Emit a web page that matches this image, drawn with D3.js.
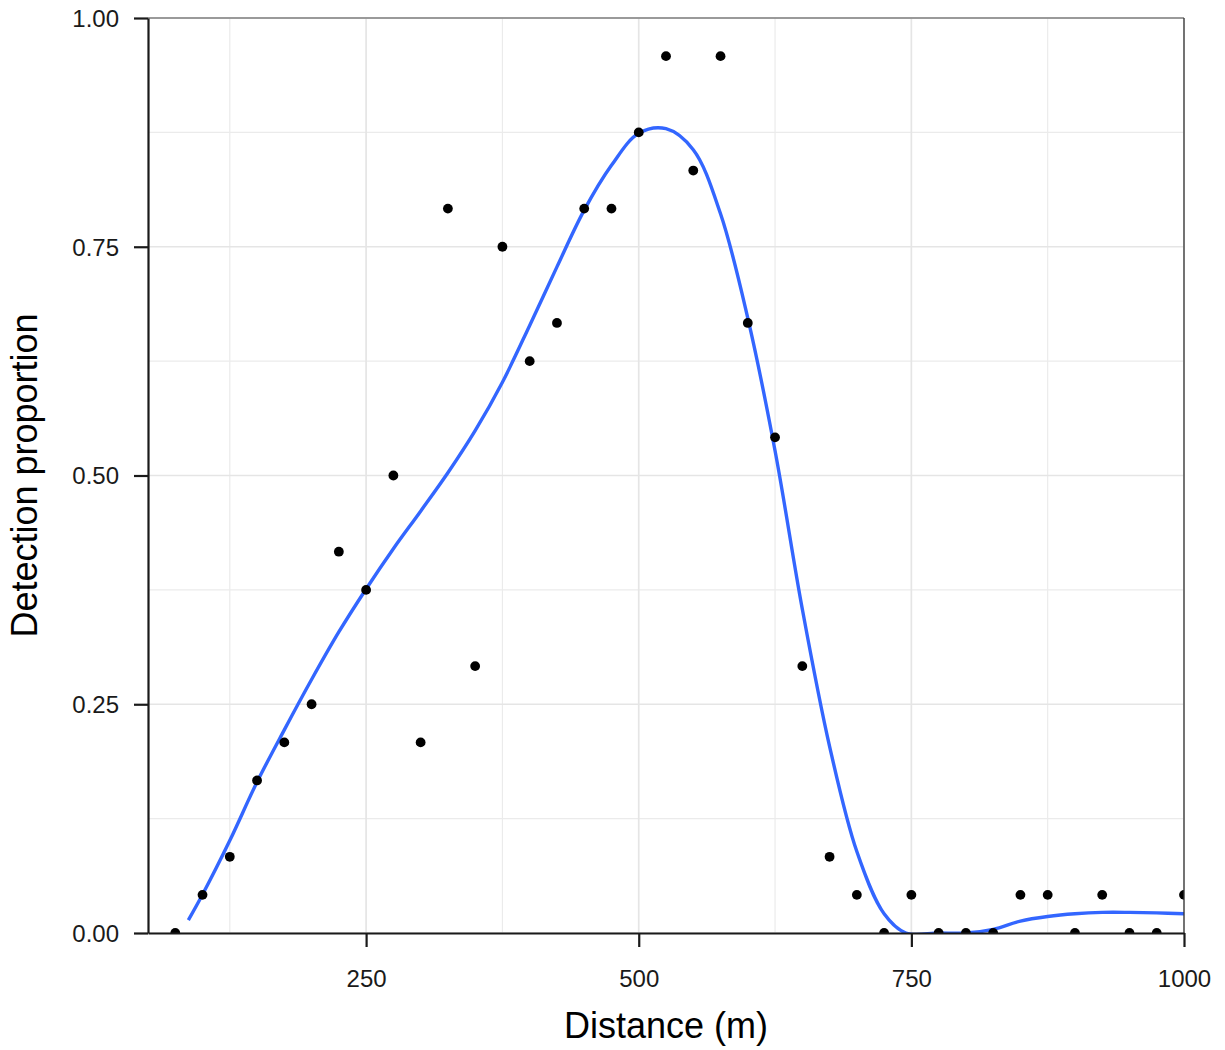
<!DOCTYPE html>
<html>
<head>
<meta charset="utf-8">
<script src="https://cdn.jsdelivr.net/npm/d3@7"></script>
<style>
  html, body { margin: 0; padding: 0; background: #ffffff; }
  svg { display: block; }
  text { font-family: "Liberation Sans", Arial, sans-serif; }
</style>
</head>
<body>
<div id="chart"></div>
<script>
// Observed detection proportions
const distances = [75, 100, 125, 150, 175, 200, 225, 250, 275, 300, 325, 350, 375, 400, 425, 450, 475, 500,
  525, 550, 575, 600, 625, 650, 675, 700, 725, 750, 775, 800, 825, 850, 875, 900, 925, 950, 975, 1000];
const proportions = [0, 0.0417, 0.0833, 0.1667, 0.2083, 0.25, 0.4167, 0.375, 0.5, 0.2083, 0.7917, 0.2917, 0.75,
  0.625, 0.6667, 0.7917, 0.7917, 0.875, 0.9583, 0.8333, 0.9583, 0.6667, 0.5417, 0.2917, 0.0833, 0.0417, 0,
  0.0417, 0, 0, 0, 0.0417, 0.0417, 0, 0.0417, 0, 0, 0.0417];

// Smoothed fit
const smoothX = [87, 100, 125, 150, 175, 200, 225, 250, 275, 300, 325, 350, 375, 400, 425, 450, 475, 500, 525,
  550, 575, 600, 625, 650, 675, 700, 725, 745, 775, 800, 825, 850, 875, 900, 925, 950, 975, 1000];
const smoothY = [0.014, 0.042, 0.101, 0.165, 0.222, 0.277, 0.329, 0.376, 0.420, 0.461, 0.503, 0.549, 0.602, 0.664,
  0.728, 0.790, 0.839, 0.874, 0.879, 0.856, 0.786, 0.672, 0.527, 0.354, 0.204, 0.089, 0.021, 0.0, 0, 0,
  0.004, 0.013, 0.018, 0.021, 0.0225, 0.0225, 0.022, 0.021];

const xTicks = [250, 500, 750, 1000];
const xMinor = [125, 375, 625, 875];
const yTicks = [0, 0.25, 0.5, 0.75, 1];
const yMinor = [0.125, 0.375, 0.625, 0.875];
const xTitle = "Distance (m)";
const yTitle = "Detection proportion";

(function () {
const W = 1225, H = 1050;
const pL = 148, pR = 1184, pT = 18, pB = 933;

const svg = d3.select("#chart").append("svg").attr("width", W).attr("height", H);

const x = d3.scaleLinear().domain([50, 1000]).range([pL, pR]);
const y = d3.scaleLinear().domain([0, 1]).range([pB, pT]);

svg.append("defs").append("clipPath").attr("id", "panel")
  .append("rect").attr("x", pL).attr("y", pT).attr("width", pR - pL).attr("height", pB - pT);

const grid = svg.append("g");
grid.selectAll(".vmin").data(xMinor).join("line")
  .attr("x1", d => x(d)).attr("x2", d => x(d)).attr("y1", pT).attr("y2", pB)
  .attr("stroke", "#ebebeb").attr("stroke-width", 1.2);
grid.selectAll(".hmin").data(yMinor).join("line")
  .attr("y1", d => y(d)).attr("y2", d => y(d)).attr("x1", pL).attr("x2", pR)
  .attr("stroke", "#ebebeb").attr("stroke-width", 1.2);
grid.selectAll(".vmaj").data(xTicks).join("line")
  .attr("x1", d => x(d)).attr("x2", d => x(d)).attr("y1", pT).attr("y2", pB)
  .attr("stroke", "#e5e5e5").attr("stroke-width", 1.7);
grid.selectAll(".hmaj").data(yTicks).join("line")
  .attr("y1", d => y(d)).attr("y2", d => y(d)).attr("x1", pL).attr("x2", pR)
  .attr("stroke", "#e5e5e5").attr("stroke-width", 1.7);

const panel = svg.append("g").attr("clip-path", "url(#panel)");

const line = d3.line().x((d, i) => x(smoothX[i])).y(d => y(d)).curve(d3.curveCatmullRom.alpha(0.5));
panel.append("path").datum(smoothY).attr("d", line)
  .attr("fill", "none").attr("stroke", "#3366FF").attr("stroke-width", 3.4)
  .attr("stroke-linejoin", "round");

panel.selectAll("circle").data(distances).join("circle")
  .attr("cx", d => x(d)).attr("cy", (d, i) => y(proportions[i])).attr("r", 4.9).attr("fill", "#000");

// panel border (top/right)
svg.append("line").attr("x1", pL).attr("x2", pR).attr("y1", pT).attr("y2", pT)
  .attr("stroke", "#7f7f7f").attr("stroke-width", 1.3);
svg.append("line").attr("x1", pR).attr("x2", pR).attr("y1", pT).attr("y2", pB)
  .attr("stroke", "#333333").attr("stroke-width", 1.3);

// Axes
const xAxis = d3.axisBottom(x).tickValues(xTicks).tickFormat(d3.format("d")).tickSizeInner(14).tickSizeOuter(0).tickPadding(15);
const yAxis = d3.axisLeft(y).tickValues(yTicks).tickFormat(d3.format(".2f")).tickSizeInner(14).tickSizeOuter(0).tickPadding(15);

const gx = svg.append("g").attr("transform", `translate(0,${pB})`).call(xAxis);
const gy = svg.append("g").attr("transform", `translate(${pL},0)`).call(yAxis);
[gx, gy].forEach(g => {
  g.select(".domain").attr("stroke", "#1a1a1a").attr("stroke-width", 2.2);
  g.selectAll(".tick line").attr("stroke", "#1a1a1a").attr("stroke-width", 2.2);
  g.selectAll(".tick text").attr("fill", "#1a1a1a").attr("font-size", 24)
    .attr("font-family", "'Liberation Sans', Arial, sans-serif");
});
gx.selectAll(".tick text").attr("dy", 0).attr("y", 54);
gy.selectAll(".tick text").attr("dy", "0.35em");

svg.append("text").attr("x", (pL + pR) / 2).attr("y", 1038)
  .attr("text-anchor", "middle").attr("font-size", 36).attr("fill", "#000").text(xTitle);
svg.append("text").attr("transform", `translate(37,${(pT + pB) / 2}) rotate(-90)`)
  .attr("text-anchor", "middle").attr("font-size", 36).attr("fill", "#000").text(yTitle);
})();
</script>
</body>
</html>
